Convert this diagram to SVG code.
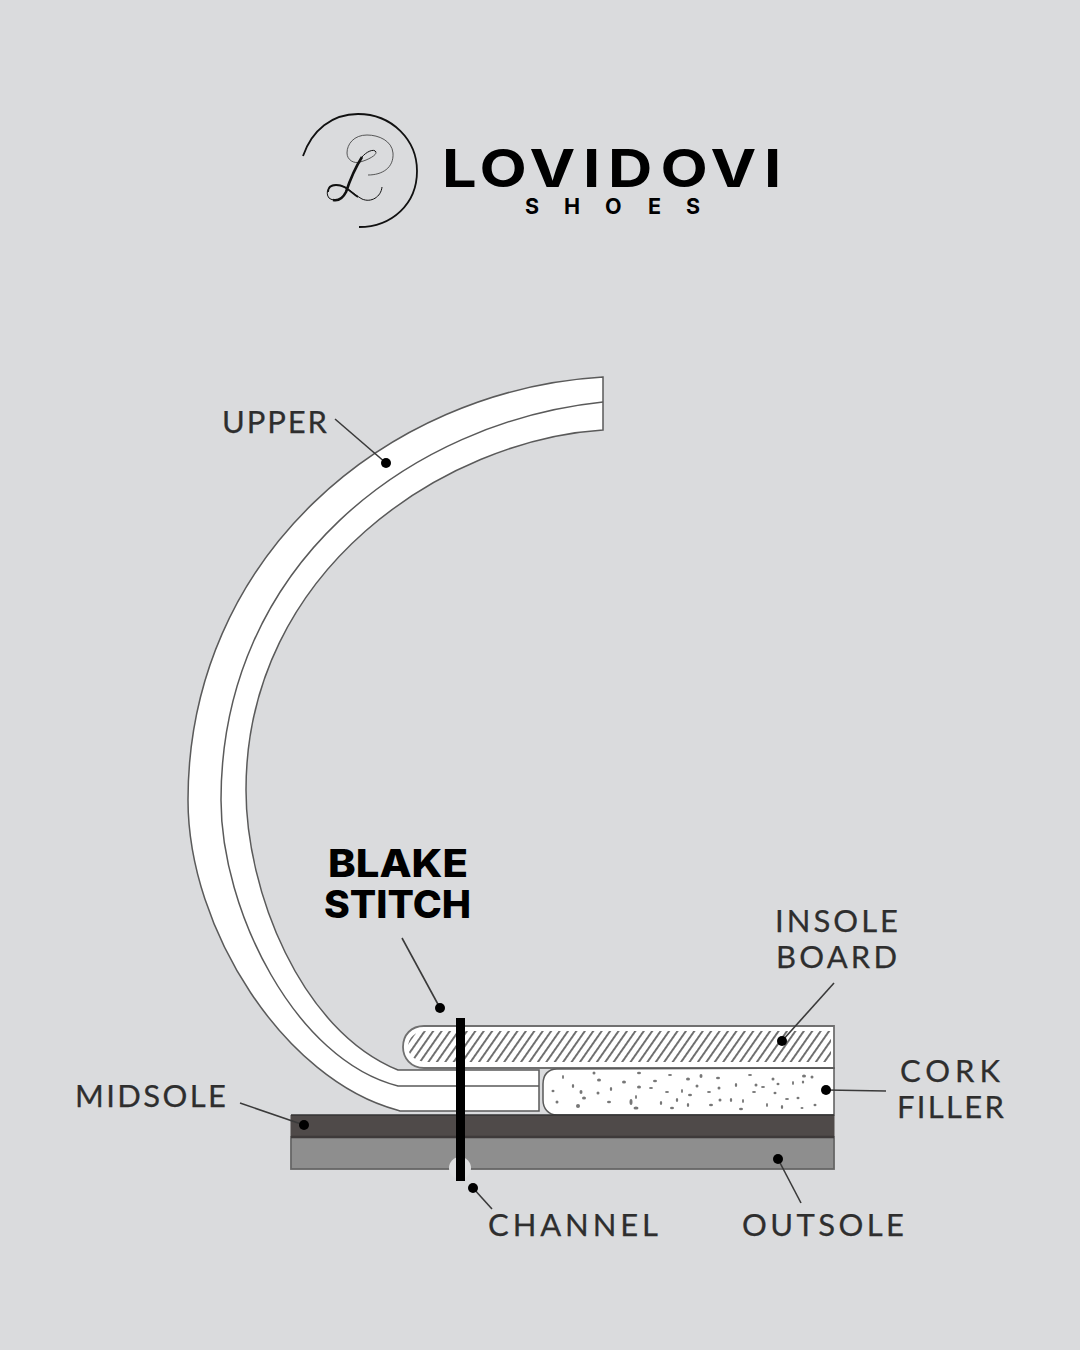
<svg xmlns="http://www.w3.org/2000/svg" width="1080" height="1350" viewBox="0 0 1080 1350">
<style>
.lb{font-family:"Lato","Open Sans",sans-serif;font-size:31px;fill:#2e2e2e;stroke:#2e2e2e;stroke-width:.25}
.bl{font-family:"Inter","Liberation Sans",sans-serif;font-size:38px;font-weight:800;fill:#000}
.ln{fill:none;stroke:#3a3a3a;stroke-width:1.6}
.part{stroke:#5a5a5a;stroke-width:1.5}
.dot{fill:#000}
.sp{fill:#777}
</style>
<defs>
<pattern id="hatch" width="6.9" height="8" patternUnits="userSpaceOnUse" patternTransform="rotate(35)">
<rect x="0" y="0" width="1.9" height="8" fill="#6a6a6a"/>
</pattern>
</defs>
<rect width="1080" height="1350" fill="#dadbdd"/>
<g id="logo">
<path d="M303 156C312 130 332 114 358 114C392 114 417 140 417 171C417 204 392 227 359 227" fill="none" stroke="#111" stroke-width="1.8"/>
<path d="M368 175C382 175 394 168 393 153C392 141 379 135 367 135C354 135 347 144 347 153C347 160 354 164 360 162C368 160 377 155 376 152" fill="none" stroke="#333" stroke-width=".8"/>
<path d="M376 152C374 148 366 152 362 157C355 168 350 180 346 192C342 200 334 202 329 198C325 193 328 185 336 185C346 185 353 194 362 199C371 203 381 197 382 187" fill="none" stroke="#111" stroke-width="1"/>
<path d="M362 157C355 168 350 180 346 192C343 198 338 201 333 200" fill="none" stroke="#111" stroke-width="2.6"/>
<path d="M328 192C328 187 331 185 336 185C346 185 350 192 358 197" fill="none" stroke="#111" stroke-width="1.8"/>
<text transform="scale(1.18 1)" x="374.600 406.400 448.700 494.100 515.300 559.700 602.100 647.500" y="187" font-family="Inter,'Liberation Sans',sans-serif" font-size="52" font-weight="700" fill="#000">LOVIDOVI</text>
<text x="525 564 605 648 686" y="214" font-family="Inter,'Liberation Sans',sans-serif" font-size="21.5" font-weight="700" fill="#000">SHOES</text>
</g>
<g id="upper">
<path class="part" fill="#fff" d="M603 377L603 430C445 440 246 570 246 790C246 890 300 1030 398 1070L539 1070L539 1111L400 1111L397 1110C285 1080 188 930 188 800C188 558 385 390 603 377Z"/>
<path class="part" fill="none" d="M603 402C410 422 221 565 221 800C221 910 295 1060 398 1086L539 1086"/>
</g>
<g id="insole-board">
<path stroke="#707070" stroke-width="1.8" fill="#fff" d="M834 1026L834 1068L424 1068C411 1068 403 1058 403 1047C403 1035 411 1026 424 1026Z"/>
<path fill="url(#hatch)" d="M831 1031L831 1062L426 1062C415 1061 408 1055 408 1047C408 1038 415 1031 426 1031Z"/>
</g>
<g id="cork-filler">
<path class="part" fill="#fff" d="M834 1068L834 1115L557 1115C548 1115 543 1108 543 1100L543 1084C543 1075 548 1069 557 1069Z"/>
<g class="sp">
<ellipse cx="563" cy="1077" rx="1" ry="2"/><ellipse cx="594" cy="1073" rx="1.5" ry="1.5"/><ellipse cx="599" cy="1080" rx="2" ry="1.5"/><ellipse cx="624" cy="1082" rx="2" ry="1.5"/><ellipse cx="639" cy="1073" rx="2" ry="1.2"/><ellipse cx="655" cy="1081" rx="2" ry="1.2"/><ellipse cx="670" cy="1075" rx="2" ry="1"/><ellipse cx="688" cy="1079" rx="2" ry="1.5"/><ellipse cx="701" cy="1076" rx="1.5" ry="2"/><ellipse cx="718" cy="1078" rx="2" ry="1.2"/><ellipse cx="750" cy="1075" rx="2" ry="1"/><ellipse cx="773" cy="1079" rx="1.5" ry="1.5"/><ellipse cx="778" cy="1084" rx="1.5" ry="1.2"/><ellipse cx="804" cy="1076" rx="2" ry="1.5"/><ellipse cx="812" cy="1077" rx="1.5" ry="1.5"/>
<ellipse cx="553" cy="1091" rx="1.5" ry="1.2"/><ellipse cx="573" cy="1086" rx="1.2" ry="2"/><ellipse cx="581" cy="1092" rx="1.5" ry="2"/><ellipse cx="598" cy="1093" rx="1.5" ry="1.5"/><ellipse cx="611" cy="1089" rx="1.2" ry="2"/><ellipse cx="639" cy="1087" rx="2" ry="1.5"/><ellipse cx="651" cy="1088" rx="2" ry="1"/><ellipse cx="667" cy="1092" rx="2" ry="1"/><ellipse cx="682" cy="1091" rx="1" ry="2"/><ellipse cx="697" cy="1086" rx="1.5" ry="1.5"/><ellipse cx="709" cy="1092" rx="2" ry="1"/><ellipse cx="719" cy="1088" rx="1.5" ry="1.5"/><ellipse cx="736" cy="1085" rx="1.2" ry="2"/><ellipse cx="756" cy="1085" rx="1.5" ry="1.5"/><ellipse cx="763" cy="1087" rx="2" ry="1"/><ellipse cx="775" cy="1093" rx="1.5" ry="1.2"/><ellipse cx="793" cy="1083" rx="1" ry="2"/><ellipse cx="803" cy="1082" rx="1.2" ry="1.5"/>
<ellipse cx="557" cy="1102" rx="1.5" ry="1.5"/><ellipse cx="578" cy="1106" rx="2" ry="2"/><ellipse cx="584" cy="1098" rx="2" ry="1.5"/><ellipse cx="609" cy="1102" rx="2" ry="1.2"/><ellipse cx="631" cy="1102" rx="1.5" ry="3"/><ellipse cx="636" cy="1097" rx="1" ry="2"/><ellipse cx="636" cy="1108" rx="2.5" ry="1.5"/><ellipse cx="661" cy="1103" rx="1.2" ry="2"/><ellipse cx="672" cy="1108" rx="2" ry="1.2"/><ellipse cx="677" cy="1100" rx="1.2" ry="2"/><ellipse cx="690" cy="1095" rx="2" ry="1.2"/><ellipse cx="688" cy="1105" rx="1.2" ry="2"/><ellipse cx="711" cy="1105" rx="2" ry="1.2"/><ellipse cx="720" cy="1100" rx="1.5" ry="1.5"/><ellipse cx="731" cy="1100" rx="1.2" ry="2"/><ellipse cx="743" cy="1101" rx="1" ry="2"/><ellipse cx="741" cy="1109" rx="2" ry="1.2"/><ellipse cx="754" cy="1092" rx="2" ry="1"/><ellipse cx="767" cy="1105" rx="1" ry="2"/><ellipse cx="782" cy="1107" rx="1.2" ry="2"/><ellipse cx="787" cy="1099" rx="2" ry="1"/><ellipse cx="798" cy="1098" rx="1.5" ry="1.2"/><ellipse cx="802" cy="1108" rx="1.5" ry="1"/><ellipse cx="815" cy="1105" rx="1.5" ry="1.2"/>
</g>
</g>
<g id="midsole"><rect x="290.500" y="1115" width="544" height="22" fill="#4f4a49"/></g>
<g id="outsole">
<rect x="291" y="1137" width="543" height="32" fill="#8e8e8e" stroke="#666" stroke-width="1.8"/>
<line x1="291" y1="1137" x2="834" y2="1137" stroke="#3e3a3a" stroke-width="2.4"/>
<line x1="291" y1="1115" x2="834" y2="1115" stroke="#333" stroke-width="1.4"/>
</g>
<g id="channel"><circle cx="460" cy="1168" r="11" fill="#dedfe0"/></g>
<g id="stitch"><rect x="456" y="1018" width="9" height="163" fill="#000"/></g>
<g id="connectors">
<line class="ln" x1="335" y1="419" x2="386" y2="463"/>
<line class="ln" x1="240" y1="1103" x2="304" y2="1125"/>
<line class="ln" x1="402" y1="938" x2="440" y2="1008"/>
<line class="ln" x1="834" y1="983" x2="782" y2="1041"/>
<line class="ln" x1="826" y1="1090" x2="886" y2="1091"/>
<line class="ln" x1="778" y1="1159" x2="801" y2="1203"/>
<line class="ln" x1="473" y1="1188" x2="492" y2="1209"/>
<circle class="dot" cx="386" cy="463" r="5"/>
<circle class="dot" cx="304" cy="1125" r="5"/>
<circle class="dot" cx="440" cy="1008" r="5"/>
<circle class="dot" cx="782" cy="1041" r="5"/>
<circle class="dot" cx="826" cy="1090" r="5"/>
<circle class="dot" cx="778" cy="1159" r="5"/>
<circle class="dot" cx="473" cy="1188" r="5"/>
</g>
<g id="labels">
<text class="lb" x="222" y="433" textLength="105">UPPER</text>
<text class="lb" x="75" y="1107" textLength="151">MIDSOLE</text>
<text class="lb" x="775" y="932" textLength="123">INSOLE</text>
<text class="lb" x="776" y="968" textLength="121">BOARD</text>
<text class="lb" x="900" y="1082" textLength="100">CORK</text>
<text class="lb" x="897" y="1118" textLength="107">FILLER</text>
<text class="lb" x="488" y="1236" textLength="170">CHANNEL</text>
<text class="lb" x="742" y="1236" textLength="162">OUTSOLE</text>
<text class="bl" x="328" y="877" textLength="140" lengthAdjust="spacingAndGlyphs">BLAKE</text>
<text class="bl" x="324" y="918" textLength="147" lengthAdjust="spacingAndGlyphs">STITCH</text>
</g>
</svg>
